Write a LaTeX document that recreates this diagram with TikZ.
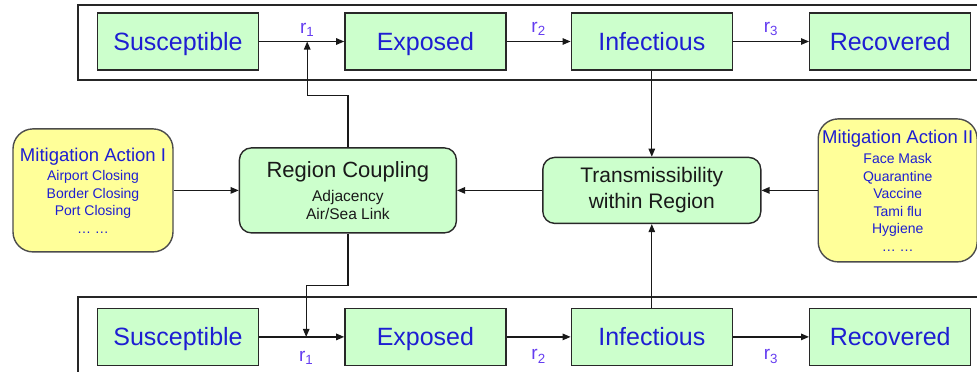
\documentclass[tikz,border=0pt]{standalone}
\usepackage{fontspec}
\setmainfont{Liberation Sans}
\usetikzlibrary{arrows.meta,positioning}
\definecolor{stategreen}{RGB}{204,255,204}
\definecolor{mityellow}{RGB}{255,255,153}
\definecolor{txtblue}{RGB}{30,30,210}
\definecolor{ratepurple}{RGB}{100,60,240}
\definecolor{boxline}{RGB}{40,40,40}

\begin{document}
\begin{tikzpicture}[x=1pt, y=1pt,
        compartment/.style={rectangle, draw=boxline, line width=1.4pt, fill=stategreen, minimum width=161pt, minimum height=57pt, inner sep=0pt, text depth=0pt, text=txtblue, font=\fontsize{25}{30}\selectfont},
        process/.style={rectangle, draw=boxline, line width=1.4pt, fill=stategreen, rounded corners=12pt, align=center, inner sep=0pt, text=black!90},
        mitigation/.style={rectangle, draw=black!70, line width=1.4pt, fill=mityellow, rounded corners=20pt, align=center, inner sep=0pt, text=txtblue, font=\fontsize{14}{17.5}\selectfont},
        rate/.style={inner sep=0pt, text=ratepurple, font=\fontsize{19}{20}\selectfont},
        frame/.style={draw=black!85, line width=1.5pt},
        arrow/.style={-{Triangle[length=8pt, width=6.5pt]}, line width=1.2pt, draw=black!90}]

        \clip (0,0) rectangle (977,-372);
        \draw[frame] (78,-5) rectangle (995,-80);
        \draw[frame] (78,-297) rectangle (995,-390);

        \node[compartment] (sus) at (178,-41.5) {Susceptible};
        \node[compartment, right=85pt of sus] (exp) {Exposed};
        \node[compartment, right=64pt of exp] (inf) {Infectious};
        \node[compartment, right=76pt of inf] (rec) {Recovered};

        \node[process, below=86pt of inf, minimum width=218pt, minimum height=66pt, font=\fontsize{21}{26}\selectfont] (trans) {Transmissibility\\within Region};
        \node[process, left=85pt of trans, minimum width=217pt, minimum height=85pt, font=\fontsize{15.5}{18}\selectfont] (rc) {{\fontsize{22}{24}\selectfont Region Coupling}\\[6pt]Adjacency\\Air/Sea Link};
        \node[mitigation, left=65pt of rc, minimum width=160pt, minimum height=123pt] (mit1) {{\fontsize{18.5}{20}\selectfont Mitigation Action I}\\[2pt]Airport Closing\\Border Closing\\Port Closing\\\ldots\ \ldots};
        \node[mitigation, right=56pt of trans, minimum width=159pt, minimum height=143pt] (mit2) {{\fontsize{18.5}{20}\selectfont Mitigation Action II}\\[3pt]Face Mask\\Quarantine\\Vaccine\\Tami flu\\Hygiene\\\ldots\ \ldots};

        \node[compartment, below=237pt of sus] (susB) {Susceptible};
        \node[compartment, below=237pt of exp] (expB) {Exposed};
        \node[compartment, below=237pt of inf] (infB) {Infectious};
        \node[compartment, below=237pt of rec] (recB) {Recovered};

        \coordinate[right=48pt of sus.east] (j1);
        \coordinate[above=52pt of rc.north] (k1);
        \coordinate[right=47pt of susB.east] (j2);
        \coordinate[below=52pt of rc.south] (k2);

        \draw[arrow] (sus) -- (exp);
        \node[rate, above=5pt of j1] (r1a) {r\textsubscript{1}};
        \draw[arrow] (exp) -- node[rate, above=5pt] (r2a) {r\textsubscript{2}} (inf);
        \draw[arrow] (inf) -- node[rate, above=5pt] (r3a) {r\textsubscript{3}} (rec);

        \draw[arrow] (susB) -- (expB);
        \node[rate, below=14pt of j2] (r1b) {r\textsubscript{1}};
        \draw[arrow] (expB) -- node[rate, below=12pt] (r2b) {r\textsubscript{2}} (infB);
        \draw[arrow] (infB) -- node[rate, below=12pt] (r3b) {r\textsubscript{3}} (recB);

        \draw[arrow] (inf) -- (trans);
        \draw[arrow] (infB) -- (trans);
        \draw[arrow] (trans) -- (rc);
        \draw[arrow] (mit1) -- (rc);
        \draw[arrow] (mit2) -- (trans);
        \draw[arrow] (rc.north) -- (k1) -| (j1);
        \draw[arrow] (rc.south) -- (k2) -| (j2);
    \end{tikzpicture}
\end{document}
